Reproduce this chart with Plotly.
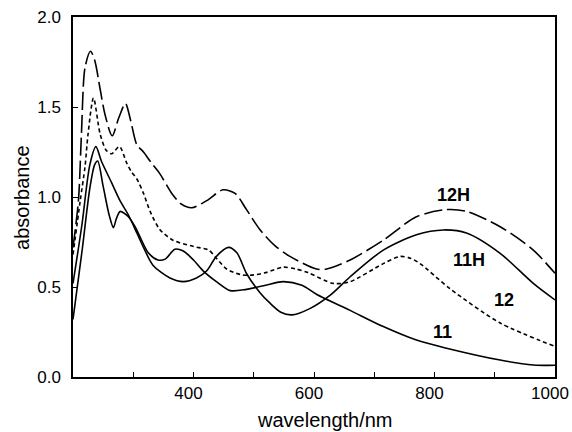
import plotly.graph_objects as go

# ---- data ----
wl_12H = [200, 209, 214, 220, 229, 236, 245, 253, 265, 276, 287, 296, 306, 317, 330, 344, 364, 380, 397, 422, 449, 469, 488, 510, 535, 560, 604, 621, 660, 715, 770, 820, 853, 909, 964, 1000]
ab_12H = [0.72, 0.98, 1.35, 1.72, 1.81, 1.76, 1.60, 1.46, 1.34, 1.44, 1.52, 1.42, 1.29, 1.25, 1.19, 1.13, 1.02, 0.96, 0.94, 0.98, 1.04, 1.02, 0.93, 0.82, 0.73, 0.67, 0.60, 0.60, 0.65, 0.76, 0.89, 0.93, 0.92, 0.835, 0.705, 0.576]

wl_12 = [200, 212, 220, 225, 234, 245, 255, 264, 277, 289, 297, 306, 317, 328, 344, 366, 400, 425, 438, 455, 477, 494, 520, 549, 570, 590, 632, 660, 715, 743, 760, 776, 826, 909, 1000]
ab_12 = [0.68, 0.98, 1.17, 1.35, 1.55, 1.35, 1.26, 1.24, 1.28, 1.19, 1.14, 1.10, 1.02, 0.92, 0.82, 0.76, 0.725, 0.705, 0.66, 0.60, 0.57, 0.565, 0.58, 0.61, 0.60, 0.58, 0.52, 0.53, 0.63, 0.67, 0.66, 0.63, 0.49, 0.30, 0.17]

wl_11H = [200, 215, 228, 238, 247, 264, 278, 292, 306, 317, 333, 361, 383, 405, 422, 438, 458, 472, 488, 510, 527, 545, 563, 593, 627, 660, 715, 770, 815, 853, 909, 964, 1000]
ab_11H = [0.52, 0.85, 1.18, 1.28, 1.20, 1.08, 0.98, 0.90, 0.80, 0.72, 0.62, 0.55, 0.53, 0.55, 0.59, 0.67, 0.72, 0.69, 0.575, 0.47, 0.41, 0.36, 0.345, 0.38, 0.455, 0.557, 0.705, 0.79, 0.817, 0.80, 0.687, 0.52, 0.428]

wl_11 = [200, 215, 228, 236, 241, 250, 260, 267, 272, 278, 285, 292, 303, 311, 325, 341, 353, 369, 383, 400, 416, 438, 461, 488, 520, 549, 580, 604, 660, 715, 770, 820, 909, 964, 1000]
ab_11 = [0.32, 0.70, 1.05, 1.18, 1.20, 1.06, 0.90, 0.83, 0.88, 0.92, 0.91, 0.89, 0.835, 0.78, 0.69, 0.65, 0.655, 0.71, 0.70, 0.65, 0.59, 0.53, 0.48, 0.487, 0.51, 0.53, 0.51, 0.46, 0.37, 0.28, 0.205, 0.16, 0.094, 0.067, 0.065]

label_text = ["12H", "11H", "12", "11"]
label_wl = [831, 858, 915, 814]
label_ab = [1.01, 0.65, 0.43, 0.25]

x_ticks = [400, 600, 800, 1000]
x_minor = [300, 500, 700, 900]
y_ticks = [0.0, 0.5, 1.0, 1.5, 2.0]

x_title = "wavelength/nm"
y_title = "absorbance"

FONT = "Liberation Sans, Arial, Helvetica, sans-serif"

fig = go.Figure()
series = [
    (wl_12H, ab_12H, "18px,5px"),
    (wl_12, ab_12, "4px,3px"),
    (wl_11H, ab_11H, "solid"),
    (wl_11, ab_11, "solid"),
]
for xs, ys, dash in series:
    fig.add_trace(go.Scatter(
        x=xs, y=ys, mode="lines",
        line=dict(color="black", width=1.6, dash=dash, shape="spline", smoothing=0.8),
        showlegend=False, hoverinfo="skip",
    ))

for t, xv, yv in zip(label_text, label_wl, label_ab):
    fig.add_annotation(x=xv, y=yv, text="<b>%s</b>" % t, showarrow=False,
                       font=dict(family=FONT, size=18, color="black"))

# axis titles placed as paper annotations (plot area: x 73..555 px, y 17..377 px)
fig.add_annotation(xref="paper", yref="paper", x=0.522, y=-0.12, xanchor="center", yanchor="middle",
                   text=x_title, showarrow=False, font=dict(family=FONT, size=20, color="black"))
fig.add_annotation(xref="paper", yref="paper", x=-0.106, y=0.5, xanchor="center", yanchor="middle",
                   text=y_title, textangle=-90, showarrow=False,
                   font=dict(family=FONT, size=20, color="black"))

fig.update_layout(
    width=572, height=432,
    margin=dict(l=73, r=17, t=17, b=55, autoexpand=False),
    paper_bgcolor="white", plot_bgcolor="white",
    font=dict(family=FONT, color="black", size=17),
)
fig.update_xaxes(
    range=[200, 1000], tickvals=x_ticks, ticks="inside", ticklen=5, tickwidth=1,
    tickcolor="black", showgrid=False, zeroline=False, showline=True,
    linecolor="black", linewidth=1.5, mirror=True, automargin=False,
    ticklabeloverflow="allow", ticklabelshift=-5,
    minor=dict(tickvals=x_minor, ticks="inside", ticklen=5, tickcolor="black", showgrid=False),
    tickfont=dict(size=17),
)
fig.update_yaxes(
    range=[0, 2], tickvals=y_ticks, tickformat=".1f", ticks="inside", ticklen=5,
    tickwidth=1, tickcolor="black", showgrid=False, zeroline=False, showline=True,
    linecolor="black", linewidth=1.5, mirror=True, ticklabelstandoff=7, automargin=False,
    ticklabeloverflow="allow",
    tickfont=dict(size=17),
)

fig.write_html("out.html", config={"displayModeBar": False},
               post_script="document.body.style.margin='0';document.body.style.overflow='hidden';")
